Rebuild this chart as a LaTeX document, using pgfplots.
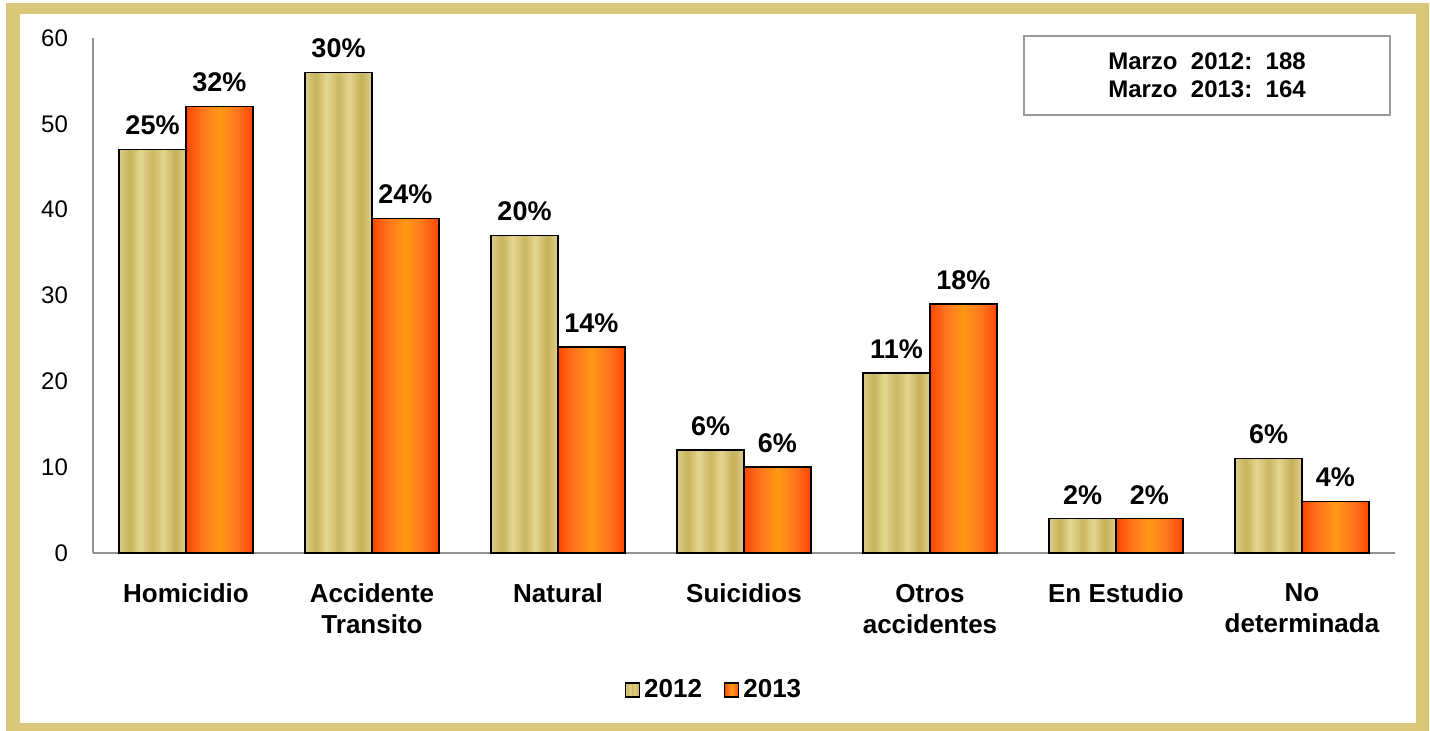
\documentclass[border=0pt]{standalone}
\usepackage{fontspec}
\setmainfont{Liberation Sans}
\usepackage{pgfplots}
\pgfplotsset{compat=1.18}
\definecolor{frameS}{HTML}{DAC777}
\definecolor{frameM}{HTML}{E6DDAE}
\pgfdeclarehorizontalshading{khakish}{100bp}{rgb(0bp)=(0.863,0.804,0.533); rgb(25bp)=(0.863,0.804,0.533); rgb(33bp)=(0.784,0.702,0.353); rgb(41bp)=(0.890,0.843,0.569); rgb(50bp)=(0.800,0.718,0.380); rgb(58bp)=(0.886,0.835,0.557); rgb(67bp)=(0.776,0.690,0.341); rgb(75bp)=(0.871,0.816,0.557); rgb(100bp)=(0.871,0.816,0.557)}
\pgfdeclarehorizontalshading{orangesh}{100bp}{rgb(0bp)=(1,0.26,0); rgb(25bp)=(1,0.27,0); rgb(36bp)=(1,0.45,0.12); rgb(50bp)=(1,0.60,0.08); rgb(64bp)=(1,0.45,0.12); rgb(75bp)=(1,0.27,0); rgb(100bp)=(1,0.26,0)}
\pgfplotsset{
  b12/.style={ybar, bar width=0.36, bar shift=0pt, draw=black, line width=0.75pt, shading=khakish, shading angle=0},
  b13/.style={ybar, bar width=0.36, bar shift=0pt, draw=black, line width=0.75pt, shading=orangesh, shading angle=0},
}
\begin{document}
\begin{tikzpicture}[x=1pt,y=1pt]
\fill[white] (0,0) rectangle (715,365);
\shade[left color=frameS, middle color=frameM, right color=frameS] (3,0) rectangle (714.5,363);
\fill[white] (10,3.5) rectangle (708,358);
\begin{axis}[
  at={(46.5pt,88.5pt)}, anchor=south west,
  scale only axis, width=651pt, height=257.5pt,
  xmin=-0.5, xmax=6.5, ymin=0, ymax=60,
  axis x line=bottom, axis y line=left,
  axis line style={-, draw=gray!85, line width=0.9pt},
  major tick length=0pt,
  ytick={0,10,...,60},
  xtick={0,...,6},
  xticklabels={Homicidio, Accidente\\Transito, Natural, Suicidios, Otros\\accidentes, En Estudio, No\\determinada},
  xticklabel style={align=center, font=\bfseries\fontsize{13}{15.5}\selectfont, yshift=-12pt},
  yticklabel style={font=\fontsize{12}{14}\selectfont, xshift=-9pt},
  /pgf/number format/assume math mode=true,
  nodes near coords, point meta=explicit symbolic,
  every node near coord/.append style={font=\bfseries\fontsize{13.5}{15}\selectfont, black, yshift=3.5pt},
  legend style={at={(0.4777,-0.266)}, anchor=center, draw=none, legend columns=2,
    font=\bfseries\fontsize{13}{15}\selectfont, /tikz/every even column/.append style={column sep=9pt}},
  legend image code/.code={\draw[#1, line width=0.7pt] (0pt,-3.5pt) rectangle (7pt,3.5pt);},
  clip=false,
]
\addplot[b12] coordinates {(-0.18,47) [25\%]};
\addlegendentry{2012}
\addplot[b13] coordinates {(0.18,52) [32\%]};
\addlegendentry{2013}
\addplot[b12, forget plot] coordinates {(0.82,56) [30\%]};
\addplot[b12, forget plot] coordinates {(1.82,37) [20\%]};
\addplot[b12, forget plot] coordinates {(2.82,12) [6\%]};
\addplot[b12, forget plot] coordinates {(3.82,21) [11\%]};
\addplot[b12, forget plot] coordinates {(4.82,4) [2\%]};
\addplot[b12, forget plot] coordinates {(5.82,11) [6\%]};
\addplot[b13, forget plot] coordinates {(1.18,39) [24\%]};
\addplot[b13, forget plot] coordinates {(2.18,24) [14\%]};
\addplot[b13, forget plot] coordinates {(3.18,10) [6\%]};
\addplot[b13, forget plot] coordinates {(4.18,29) [18\%]};
\addplot[b13, forget plot] coordinates {(5.18,4) [2\%]};
\addplot[b13, forget plot] coordinates {(6.18,6) [4\%]};
\end{axis}
\node[draw=gray!80, line width=0.6pt, fill=white, minimum width=183pt, minimum height=39.5pt,
  align=center, font=\bfseries\fontsize{12}{14}\selectfont] at (603.5,327.25)
  {Marzo\ \ 2012:\ \ 188\\Marzo\ \ 2013:\ \ 164};
\end{tikzpicture}
\end{document}
